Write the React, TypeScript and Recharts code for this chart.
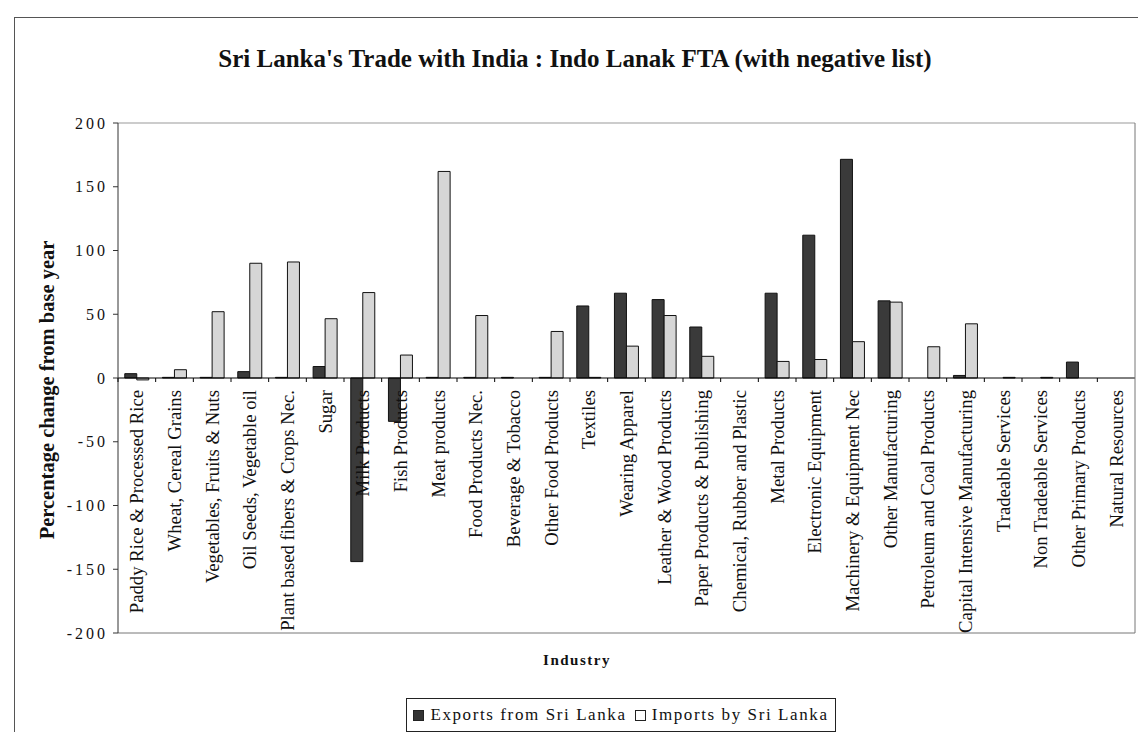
import { BarChart, Bar, XAxis, YAxis, ReferenceLine, Legend } from "recharts";

const industries = [
  "Paddy Rice & Processed Rice",
  "Wheat, Cereal Grains",
  "Vegetables, Fruits & Nuts",
  "Oil Seeds, Vegetable oil",
  "Plant based fibers & Crops Nec.",
  "Sugar",
  "Milk Products",
  "Fish Products",
  "Meat products",
  "Food Products Nec.",
  "Beverage & Tobacco",
  "Other Food Products",
  "Textiles",
  "Wearing Apparel",
  "Leather & Wood Products",
  "Paper Products & Publishing",
  "Chemical, Rubber and Plastic",
  "Metal Products",
  "Electronic Equipment",
  "Machinery & Equipment Nec",
  "Other Manufacturing",
  "Petroleum and Coal Products",
  "Capital Intensive Manufacturing",
  "Tradeable Services",
  "Non Tradeable Services",
  "Other Primary Products",
  "Natural Resources",
];

const exportsFromSriLanka = [
  3.4, 0.5, 0.5, 5, 0.5, 9, -144, -34, 0.5, 0.5, 0.5, 0.5, 56.5, 66.5, 61.5, 40, 0,
  66.5, 112, 171.5, 60.5, 0, 2, 0, 0, 12.5, 0,
];

const importsBySriLanka = [
  -1.5, 6.5, 52, 90, 91, 46.5, 67, 18, 162, 49, 0, 36.5, 0.5, 25, 49, 17, 0, 13, 14.5,
  28.5, 59.5, 24.5, 42.5, 0.5, 0.5, 0, 0,
];

const yTicks = [-200, -150, -100, -50, 0, 50, 100, 150, 200];

const data = industries.map((name, i) => ({
  name,
  exports: exportsFromSriLanka[i],
  imports: importsBySriLanka[i],
}));

const W = 1138;
const H = 732;
const PLOT_LEFT = 118;
const PLOT_RIGHT = 1135;
const PLOT_TOP = 123;
const PLOT_BOTTOM = 633;
const Y_MIN = -200;
const Y_MAX = 200;
const SERIF = '"Liberation Serif", "Times New Roman", serif';

const zeroY = PLOT_TOP + ((Y_MAX - 0) / (Y_MAX - Y_MIN)) * (PLOT_BOTTOM - PLOT_TOP);
const band = (PLOT_RIGHT - PLOT_LEFT) / industries.length;

// category labels sit just under the zero line, plus the small tick between categories
function CategoryTick(props: any) {
  const { x, payload } = props;
  return (
    <g>
      <line x1={x - band / 2} x2={x - band / 2} y1={zeroY} y2={zeroY + 4} stroke="#000" />
      <text
        x={x}
        y={zeroY + 12}
        transform={`rotate(-90, ${x}, ${zeroY + 12})`}
        textAnchor="end"
        dy="0.35em"
        fontFamily={SERIF}
        fontSize={18.7}
        fill="#111"
      >
        {payload.value}
      </text>
    </g>
  );
}

function LegendBox(props: any) {
  const items = props.payload || [];
  return (
    <div
      style={{
        border: "1px solid #222",
        display: "flex",
        alignItems: "center",
        justifyContent: "center",
        height: 32,
        fontFamily: SERIF,
        fontSize: 17,
        letterSpacing: 1.6,
        color: "#111",
        gap: 8,
      }}
    >
      {items.map((it: any) => (
        <span key={it.value} style={{ display: "flex", alignItems: "center" }}>
          <span
            style={{
              display: "inline-block",
              width: 9,
              height: 9,
              marginRight: 6,
              background: it.value.startsWith("Exports") ? "#333" : "#fff",
              border: "1px solid #222",
            }}
          />
          {it.value}
        </span>
      ))}
    </div>
  );
}

export default function App() {
  return (
    <div
      style={{
        position: "absolute",
        left: 0,
        top: 0,
        width: W,
        height: H,
        background: "#fff",
        overflow: "hidden",
      }}
    >
      <div
        style={{
          position: "absolute",
          left: 14,
          top: 17,
          width: 1200,
          height: 800,
          borderLeft: "1px solid #555",
          borderTop: "1px solid #555",
        }}
      />
      <div
        style={{
          position: "absolute",
          left: 0,
          top: 45,
          width: 1150,
          textAlign: "center",
          fontFamily: SERIF,
          fontWeight: "bold",
          fontSize: 25,
          color: "#111",
        }}
      >
        Sri Lanka's Trade with India : Indo Lanak FTA (with negative list)
      </div>
      <div
        style={{
          position: "absolute",
          left: 47 - 200,
          top: 390 - 12,
          width: 400,
          height: 24,
          lineHeight: "24px",
          transform: "rotate(-90deg)",
          textAlign: "center",
          fontFamily: SERIF,
          fontWeight: "bold",
          fontSize: 20.5,
          color: "#111",
        }}
      >
        Percentage change from base year
      </div>
      <div
        style={{
          position: "absolute",
          left: 477,
          top: 652,
          width: 200,
          textAlign: "center",
          fontFamily: SERIF,
          fontWeight: "bold",
          fontSize: 15,
          letterSpacing: 1.5,
          color: "#111",
        }}
      >
        Industry
      </div>
      <BarChart
        width={W}
        height={H}
        data={data}
        margin={{ top: PLOT_TOP - 1, bottom: H - PLOT_BOTTOM - 1, left: PLOT_LEFT - 60, right: W - PLOT_RIGHT - 1 }}
        barCategoryGap="18%"
        barGap={0}
      >
        <XAxis
          xAxisId="b"
          dataKey="name"
          interval={0}
          height={1}
          tickLine={false}
          axisLine={{ stroke: "#777" }}
          tick={<CategoryTick />}
        />
        <XAxis xAxisId="t" orientation="top" dataKey="name" height={1} tick={false} tickLine={false} axisLine={{ stroke: "#999" }} />
        <YAxis
          yAxisId="l"
          width={60}
          domain={[Y_MIN, Y_MAX]}
          ticks={yTicks}
          tickSize={5}
          tickMargin={5}
          axisLine={{ stroke: "#333" }}
          tickLine={{ stroke: "#333" }}
          tick={{ fontFamily: SERIF, fontSize: 16, letterSpacing: 3, fill: "#111" }}
        />
        <YAxis yAxisId="r" orientation="right" width={1} domain={[Y_MIN, Y_MAX]} tick={false} tickLine={false} axisLine={{ stroke: "#777" }} />
        <ReferenceLine xAxisId="b" yAxisId="l" y={0} stroke="#000" />
        <Legend
          layout="horizontal"
          verticalAlign="middle"
          align="center"
          wrapperStyle={{ top: 698, left: 406, width: 430, height: 34 }}
          content={<LegendBox />}
        />
        <Bar
          xAxisId="b"
          yAxisId="l"
          dataKey="exports"
          name="Exports from Sri Lanka"
          fill="#3a3a3a"
          stroke="#111"
          strokeWidth={1}
          isAnimationActive={false}
        />
        <Bar
          xAxisId="b"
          yAxisId="l"
          dataKey="imports"
          name="Imports by Sri Lanka"
          fill="#d6d6d6"
          stroke="#111"
          strokeWidth={1}
          isAnimationActive={false}
        />
      </BarChart>
    </div>
  );
}
